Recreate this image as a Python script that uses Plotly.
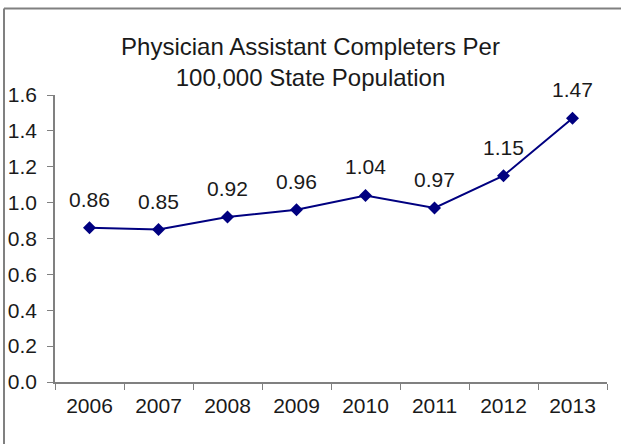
import plotly.graph_objects as go

years = ["2006", "2007", "2008", "2009", "2010", "2011", "2012", "2013"]
completers = [0.86, 0.85, 0.92, 0.96, 1.04, 0.97, 1.15, 1.47]
y_ticks = [0.0, 0.2, 0.4, 0.6, 0.8, 1.0, 1.2, 1.4, 1.6]

W, H = 621, 444
L, R, T, B = 55, 14, 95, 62
pw, ph = W - L - R, H - T - B
FONT = "Liberation Sans, Arial"
TXT = "#1a1a1a"

def px(x):
    return (x - L) / pw

def py(y):
    return (H - B - y) / ph

fig = go.Figure()
fig.add_trace(go.Scatter(
    x=years, y=completers,
    mode="lines+markers",
    line=dict(color="#000080", width=2),
    marker=dict(symbol="diamond", size=10, color="#000080"),
    cliponaxis=False,
    showlegend=False,
))

annotations = [
    dict(x=i, y=v, xref="x", yref="y", text=f"{v:.2f}", showarrow=False,
         yanchor="bottom", yshift=15, font=dict(family=FONT, size=21, color=TXT))
    for i, v in enumerate(completers)
]

fig.update_layout(
    width=W, height=H,
    margin=dict(l=L, r=R, t=T, b=B, autoexpand=False),
    paper_bgcolor="white", plot_bgcolor="white",
    font=dict(family=FONT, size=21, color=TXT),
    title=dict(
        text="Physician Assistant Completers Per<br>100,000 State Population",
        x=0.5, xref="container", xanchor="center",
        y=1 - 55 / H, yref="container", yanchor="top",
        font=dict(size=24, color=TXT),
    ),
    xaxis=dict(
        type="category", range=[-0.5, 7.5],
        showline=True, linecolor="#808080", linewidth=1.5,
        ticks="outside", tickson="boundaries", ticklen=6, tickcolor="#808080",
        showgrid=False, zeroline=False, automargin=False, ticklabelstandoff=4,
    ),
    yaxis=dict(
        range=[0, 1.6], tickvals=y_ticks, tickformat=".1f",
        showline=True, linecolor="#808080", linewidth=1.5,
        ticks="outside", ticklen=6, tickcolor="#808080",
        showgrid=False, zeroline=False, ticklabelstandoff=6, automargin=False,
    ),
    annotations=annotations,
    shapes=[
        dict(type="line", xref="paper", yref="paper",
             x0=px(4), x1=px(4), y0=py(8.5), y1=py(H + 2),
             line=dict(color="#808080", width=2)),
        dict(type="line", xref="paper", yref="paper",
             x0=px(4), x1=px(W + 2), y0=py(8.5), y1=py(8.5),
             line=dict(color="#808080", width=2)),
    ],
)

fig.write_html("out.html", config={"displayModeBar": False},
               post_script="document.body.style.margin='0';")
